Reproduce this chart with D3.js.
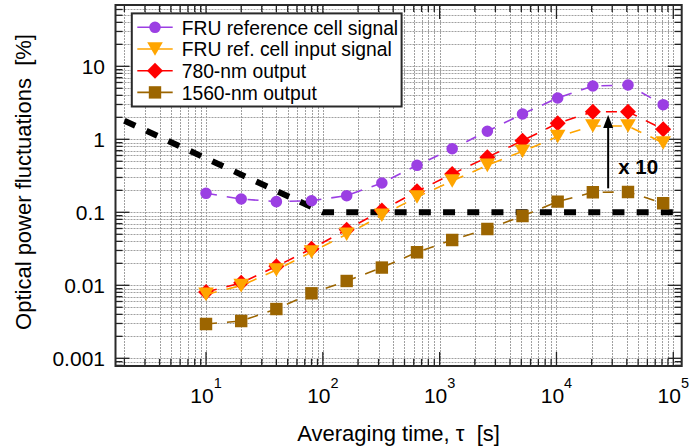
<!DOCTYPE html>
<html>
<head>
<meta charset="utf-8">
<script src="https://cdn.jsdelivr.net/npm/d3@7/dist/d3.min.js"></script>
<style>
  html, body { margin: 0; padding: 0; background: #fff; }
  svg { display: block; font-family: "Liberation Sans", Arial, Helvetica, sans-serif; }
</style>
</head>
<body>
<svg id="chart" width="689" height="448"></svg>
<script>
// Averaging times (s) and measured fluctuations (%)
const tau = [10, 20, 40, 80, 160, 320, 640, 1280, 2560, 5120, 10240, 20480, 40960, 81920];
const refCellSignal = [0.182, 0.152, 0.140, 0.144, 0.169, 0.252, 0.440, 0.743, 1.29, 2.22, 3.68, 5.37, 5.55, 2.98];
const refCellInput  = [0.0075, 0.0099, 0.0162, 0.0286, 0.050, 0.091, 0.162, 0.268, 0.44, 0.685, 1.09, 1.52, 1.52, 0.89];
const out780        = [0.0081, 0.0108, 0.0182, 0.0317, 0.0578, 0.106, 0.194, 0.335, 0.567, 0.957, 1.66, 2.39, 2.39, 1.37];
const out1560       = [0.00295, 0.00324, 0.00473, 0.00777, 0.01146, 0.0175, 0.0283, 0.0418, 0.059, 0.089, 0.140, 0.188, 0.190, 0.133];

// Requirement line (thick black dashes)
const specTau   = [2, 100, 100000];
const specLevel = [1.8, 0.1, 0.1];

// x10 arrow
const arrowTau = 27700, arrowFrom = 0.213, arrowTo = 2.15;
const arrowLabel = "x 10";

const xTickExps = [1, 2, 3, 4, 5];
const yTickVals = [0.001, 0.01, 0.1, 1, 10];
const yTickText = ["0.001", "0.01", "0.1", "1", "10"];

const seriesNames = ["FRU reference cell signal", "FRU ref. cell input signal", "780-nm output", "1560-nm output"];
const seriesVals  = [refCellSignal, refCellInput, out780, out1560];
const seriesColor = ["#9b3fe3", "#ffa500", "#ff0000", "#9c6500"];
const seriesShape = ["circle", "triDown", "diamond", "square"];

const svg = d3.select("#chart");
const L = 115.5, R = 681.7, T = 5, B = 366;

const x = d3.scaleLog().domain([Math.pow(10, 0.225), Math.pow(10, 5.072)]).range([L, R]);
const y = d3.scaleLog().domain([Math.pow(10, -3.1055), Math.pow(10, 1.8397)]).range([B, T]);

// minor/major positions for grid and ticks
function logPositions(scale) {
  const [d0, d1] = scale.domain();
  const out = [];
  for (let e = Math.floor(Math.log10(d0)); e <= Math.ceil(Math.log10(d1)); e++) {
    for (let m = 1; m <= 9; m++) {
      const v = m * Math.pow(10, e);
      if (v >= d0 * 0.999 && v <= d1 * 1.001) out.push({ v, major: m === 1 });
    }
  }
  return out;
}
const xPos = logPositions(x), yPos = logPositions(y);

svg.append("defs").append("clipPath").attr("id", "plotClip")
  .append("rect").attr("x", L).attr("y", T).attr("width", R - L).attr("height", B - T);

// dotted grid
const grid = svg.append("g").attr("stroke", "#a0a0a0").attr("stroke-width", 1).attr("stroke-dasharray", "2,1");
grid.selectAll("line.gx").data(xPos).join("line")
  .attr("x1", d => Math.round(x(d.v)) + 0.5).attr("x2", d => Math.round(x(d.v)) + 0.5)
  .attr("y1", T).attr("y2", B);
grid.selectAll("line.gy").data(yPos).join("line")
  .attr("y1", d => Math.round(y(d.v)) + 0.5).attr("y2", d => Math.round(y(d.v)) + 0.5)
  .attr("x1", L).attr("x2", R);

// inward ticks on all four sides
const ticks = svg.append("g").attr("stroke", "#222").attr("stroke-width", 1.3);
const tl = d => d.major ? 14 : 7;
xPos.forEach(d => {
  const px = x(d.v);
  ticks.append("line").attr("x1", px).attr("x2", px).attr("y1", B).attr("y2", B - tl(d));
  ticks.append("line").attr("x1", px).attr("x2", px).attr("y1", T).attr("y2", T + tl(d));
});
yPos.forEach(d => {
  const py = y(d.v);
  ticks.append("line").attr("y1", py).attr("y2", py).attr("x1", L).attr("x2", L + tl(d));
  ticks.append("line").attr("y1", py).attr("y2", py).attr("x1", R).attr("x2", R - tl(d));
});

const plot = svg.append("g").attr("clip-path", "url(#plotClip)");

// requirement line
const specLine = d3.line().x((d, i) => x(specTau[i])).y(d => y(d));
plot.append("path").datum(specLevel)
  .attr("d", specLine)
  .attr("fill", "none").attr("stroke", "#000").attr("stroke-width", 6)
  .attr("stroke-dasharray", "12,12.2");

// marker shapes
function markerPath(shape) {
  switch (shape) {
    case "circle":  return d3.symbol(d3.symbolCircle, 105)();
    case "square":  return "M-6.2,-6.2H6.2V6.2H-6.2Z";
    case "diamond": return "M0,-8L8,0L0,8L-8,0Z";
    case "triDown": return "M-7.8,-6.8H7.8L0,6.8Z";
  }
}

const line = d3.line().x((d, i) => x(tau[i])).y(d => y(d));
const drawOrder = [0, 2, 1, 3];
drawOrder.forEach(s => {
  const g = plot.append("g");
  g.append("path").datum(seriesVals[s])
    .attr("d", line)
    .attr("fill", "none").attr("stroke", seriesColor[s]).attr("stroke-width", 1.6)
    .attr("stroke-dasharray", "11,10");
  g.selectAll("path.m").data(seriesVals[s]).join("path")
    .attr("class", "m")
    .attr("transform", (d, i) => `translate(${x(tau[i])},${y(d)})`)
    .attr("d", markerPath(seriesShape[s]))
    .attr("fill", seriesColor[s]);
});

// x10 arrow
const ax = x(arrowTau), ay0 = y(arrowFrom), ay1 = y(arrowTo);
svg.append("line").attr("x1", ax).attr("x2", ax).attr("y1", ay0).attr("y2", ay1 + 10)
  .attr("stroke", "#000").attr("stroke-width", 2);
svg.append("path").attr("d", `M${ax},${ay1}L${ax - 5},${ay1 + 13}L${ax + 5},${ay1 + 13}Z`).attr("fill", "#000");
svg.append("text").attr("x", ax + 10).attr("y", (ay0 + ay1) / 2 + 22.5)
  .attr("font-size", 20.5).attr("font-weight", "bold").text(arrowLabel);

// frame
svg.append("rect").attr("x", L).attr("y", T).attr("width", R - L).attr("height", B - T)
  .attr("fill", "none").attr("stroke", "#2a2a2a").attr("stroke-width", 2);

// tick labels
const xl = svg.append("g").attr("font-size", 21).attr("fill", "#000");
xTickExps.forEach(e => {
  const t = xl.append("text").attr("x", x(Math.pow(10, e))).attr("y", 403).attr("text-anchor", "middle");
  t.append("tspan").text("10");
  t.append("tspan").attr("dy", -15).attr("font-size", 14.5).text(String(e));
});
svg.append("g").attr("font-size", 21).attr("text-anchor", "end")
  .selectAll("text").data(yTickVals).join("text")
  .attr("x", 105).attr("y", d => y(d) + 7.5)
  .text((d, i) => yTickText[i]);

// axis titles
svg.append("text").attr("x", (L + R) / 2).attr("y", 441).attr("text-anchor", "middle")
  .attr("font-size", 22).text("Averaging time, τ\u00a0\u00a0[s]");
svg.append("text").attr("transform", `translate(31,182) rotate(-90)`).attr("text-anchor", "middle")
  .attr("font-size", 22).text("Optical power fluctuations\u00a0\u00a0[%]");

// legend
const lg = svg.append("g");
lg.append("rect").attr("x", 131.8).attr("y", 13.4).attr("width", 269.8).attr("height", 93.1)
  .attr("fill", "#fff").attr("stroke", "#2a2a2a").attr("stroke-width", 2);
[0, 1, 2, 3].forEach(s => {
  const ly = 27.3 + s * 21.7;
  lg.append("line").attr("x1", 137.3).attr("x2", 172.7).attr("y1", ly).attr("y2", ly)
    .attr("stroke", seriesColor[s]).attr("stroke-width", 1.6);
  lg.append("path").attr("transform", `translate(155,${ly})`).attr("d", markerPath(seriesShape[s]))
    .attr("fill", seriesColor[s]);
  lg.append("text").attr("x", 181.7).attr("y", ly + 7.3).attr("font-size", 19.3).text(seriesNames[s]);
});
</script>
</body>
</html>
